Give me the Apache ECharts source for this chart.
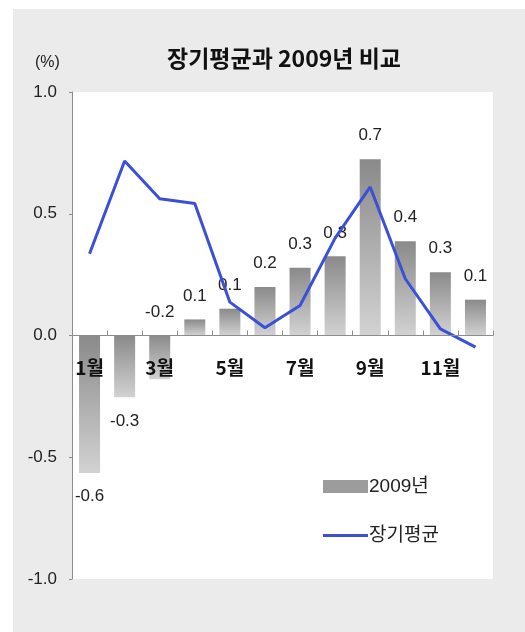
<!DOCTYPE html>
<html>
<head>
<meta charset="utf-8">
<script src="https://cdn.jsdelivr.net/npm/echarts@6/dist/echarts.min.js"></script>
<style>
  html, body { margin: 0; padding: 0; background: #ffffff; }
  #chart { width: 525px; height: 632px; }
</style>
</head>
<body>
<div id="chart"></div>
<script>
// Monthly change (%): 2009 vs. long-term average
const months = ['1월', '2월', '3월', '4월', '5월', '6월', '7월', '8월', '9월', '10월', '11월', '12월'];
const values2009 = [-0.565, -0.254, -0.18, 0.066, 0.11, 0.199, 0.278, 0.325, 0.724, 0.387, 0.26, 0.147];
const longTermAvg = [0.336, 0.717, 0.562, 0.542, 0.137, 0.032, 0.123, 0.40, 0.61, 0.233, 0.027, -0.048];
const yTicks = { min: -1, max: 1, interval: 0.5 };

// Labels below the bar for the first two negative months, above the axis for March
const labelPos = ['bottom', 'bottom', 'top', 'top', 'top', 'top', 'top', 'top', 'top', 'top', 'top', 'top'];

const numFont = "'Liberation Sans', Arial, sans-serif";
const krFont = "'Liberation Sans', 'Noto Sans CJK KR', sans-serif";
const krBold = "'Noto Sans CJK KR', sans-serif";

const barFill = new echarts.graphic.LinearGradient(0, 0, 0, 1, [
  { offset: 0, color: '#8a8a8a' },
  { offset: 1, color: '#d2d2d2' }
]);

const chart = echarts.init(document.getElementById('chart'), null, { renderer: 'canvas' });

chart.setOption({
  backgroundColor: '#ffffff',
  animation: false,
  graphic: [
    { type: 'rect', z: -10, shape: { x: 13, y: 9, width: 520, height: 630 }, style: { fill: '#ebebeb' } },
    { type: 'text', left: 35, top: 55, style: { text: '(%)', font: "16px " + numFont, fill: '#222' } }
  ],
  title: {
    text: '장기평균과 2009년 비교',
    left: 162,
    top: 42,
    textStyle: { fontFamily: krBold, fontWeight: 'bold', fontSize: 23, color: '#111' }
  },
  grid: {
    left: 72, right: 32, top: 92, bottom: 53,
    show: true, backgroundColor: '#ffffff', borderWidth: 0
  },
  legend: {
    orient: 'vertical',
    left: 318,
    top: 472,
    itemWidth: 45,
    itemHeight: 13,
    itemGap: 30,
    textStyle: { fontFamily: krFont, fontSize: 19, color: '#222', padding: [0, 0, 0, -4] },
    data: [
      { name: '2009년', icon: 'rect', itemStyle: { color: '#9c9c9c' } },
      { name: '장기평균', icon: 'path://M0 0H45V3H0Z', itemStyle: { color: '#3a50d8' } }
    ]
  },
  xAxis: [
    {
      // zero line with the month ticks
      type: 'category',
      data: months,
      z: 10,
      axisLine: { onZero: true, lineStyle: { color: '#8c8c8c', width: 1 } },
      axisTick: { show: true, inside: true, length: 5, interval: 0, lineStyle: { color: '#8c8c8c' } },
      axisLabel: { show: false },
      splitLine: { show: false }
    },
    {
      // month names just below the zero line, drawn over the bars
      type: 'category',
      data: months,
      position: 'bottom',
      offset: -234,
      z: 10,
      axisLine: { show: false, onZero: false },
      axisTick: { show: false },
      axisLabel: {
        interval: 1,
        margin: 13,
        fontFamily: krBold,
        fontWeight: 'bold',
        fontSize: 19,
        color: '#111'
      },
      splitLine: { show: false }
    }
  ],
  yAxis: {
    type: 'value',
    min: yTicks.min,
    max: yTicks.max,
    interval: yTicks.interval,
    axisLine: { show: true, lineStyle: { color: '#8c8c8c', width: 1 } },
    axisTick: { show: true, length: 3, lineStyle: { color: '#8c8c8c' } },
    axisLabel: {
      margin: 15,
      fontFamily: numFont,
      fontSize: 17,
      color: '#222',
      formatter: v => v.toFixed(1)
    },
    splitLine: { show: false }
  },
  series: [
    {
      name: '2009년',
      type: 'bar',
      xAxisIndex: 0,
      barWidth: 21,
      data: values2009.map((v, i) => ({
        value: v,
        label: { position: labelPos[i] }
      })),
      itemStyle: { color: barFill },
      label: {
        show: true,
        distance: 15,
        fontFamily: numFont,
        fontSize: 17,
        color: '#222',
        formatter: p => p.value.toFixed(1)
      }
    },
    {
      name: '장기평균',
      type: 'line',
      xAxisIndex: 0,
      data: longTermAvg,
      symbol: 'none',
      z: 5,
      lineStyle: { color: '#3a50d8', width: 3 },
      itemStyle: { color: '#3a50d8' }
    }
  ]
});
</script>
</body>
</html>
